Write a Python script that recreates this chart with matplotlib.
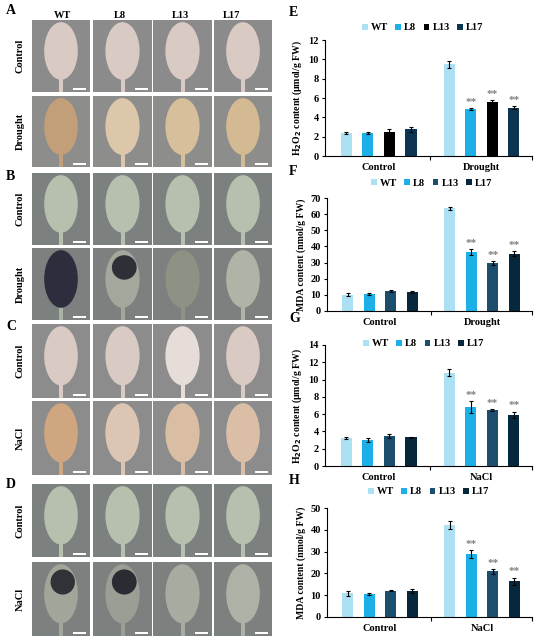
import numpy as np
import matplotlib
matplotlib.use("Agg")
import matplotlib.pyplot as plt
from matplotlib.patches import Rectangle, Ellipse

plt.rcParams['font.family'] = ['Liberation Serif', 'DejaVu Serif']
plt.rcParams['font.weight'] = 'bold'

W, H = 550, 641

lines = ['WT', 'L8', 'L13', 'L17']

# bar chart data (E-H)
e_control = [2.4, 2.4, 2.5, 2.75]
e_control_err = [0.1, 0.1, 0.25, 0.3]
e_drought = [9.5, 4.9, 5.6, 5.0]
e_drought_err = [0.35, 0.1, 0.15, 0.15]

f_control = [10.2, 10.3, 12.2, 11.8]
f_control_err = [0.8, 0.6, 0.5, 0.6]
f_drought = [63.5, 36.5, 29.8, 35.5]
f_drought_err = [1.0, 2.0, 1.2, 1.5]

g_control = [3.2, 3.0, 3.45, 3.3]
g_control_err = [0.1, 0.2, 0.2, 0.1]
g_nacl = [10.8, 6.8, 6.5, 5.9]
g_nacl_err = [0.4, 0.7, 0.1, 0.4]

h_control = [10.8, 10.5, 12.0, 11.8]
h_control_err = [1.0, 0.6, 0.3, 1.0]
h_nacl = [42.3, 29.0, 21.0, 16.5]
h_nacl_err = [1.8, 1.8, 1.2, 1.6]

colors_e = ['#ace1f3', '#1cb0e6', '#000000', '#0b3550']
colors_fgh = ['#ace1f3', '#1cb0e6', '#1c4f6e', '#07283c']


def px(x0, y0, x1, y1):
    return [x0 / W, 1 - y1 / H, (x1 - x0) / W, (y1 - y0) / H]


fig = plt.figure(figsize=(5.5, 6.41), dpi=100)

# ---------------- left side: leaf staining tiles ----------------
leaf = fig.add_axes([0, 0, 1, 1])
leaf.set_xlim(0, W)
leaf.set_ylim(H, 0)
leaf.axis('off')

cols_x = [(32, 90), (93, 152), (153, 212), (214, 272)]
header_x = [62, 120, 180, 232]
blocks = [
    ('A', 10, [(20, 92, 'Control'), (96, 167, 'Drought')]),
    ('B', 176, [(173, 245, 'Control'), (248, 320, 'Drought')]),
    ('C', 327, [(324, 398, 'Control'), (401, 475, 'NaCl')]),
    ('D', 485, [(484, 557, 'Control'), (562, 636, 'NaCl')]),
]
dab_ctrl = '#d9cac4'
nbt_ctrl = '#b7bfae'
# (background, leaf colour, dark cap colour or None)
tile_style = {
    ('A', 0): [('#8b8b8b', dab_ctrl, None)] * 4,
    ('A', 1): [('#8d8d8b', '#c29f78', None), ('#8d8d8b', '#dcc7ab', None),
               ('#8d8d8b', '#d6bf9a', None), ('#8d8d8b', '#d4ba92', None)],
    ('B', 0): [('#7c807f', nbt_ctrl, None)] * 4,
    ('B', 1): [('#7c807f', '#2c2e3d', None), ('#7c807f', '#a2a99c', '#2e3038'),
               ('#7c807f', '#8c9284', None), ('#7c807f', '#aeb4a6', None)],
    ('C', 0): [('#8d8c8c', dab_ctrl, None), ('#8d8c8c', dab_ctrl, None),
               ('#8d8c8c', '#e6dcd8', None), ('#8d8c8c', dab_ctrl, None)],
    ('C', 1): [('#8d8c8c', '#cfa67f', None), ('#8d8c8c', '#dcc6b3', None),
               ('#8d8c8c', '#d9bea3', None), ('#8d8c8c', '#dabfa6', None)],
    ('D', 0): [('#7c807f', nbt_ctrl, None)] * 4,
    ('D', 1): [('#7c807f', '#a0a69a', '#303238'), ('#7c807f', '#9a9f96', '#2a2c34'),
               ('#7c807f', '#a6ac9f', None), ('#7c807f', '#acb2a5', None)],
}

for name, label_y, rows in blocks:
    leaf.text(6, label_y, name, fontsize=10, ha='left', va='center')
    for r, (y0, y1, cond) in enumerate(rows):
        leaf.text(20, (y0 + y1) / 2, cond, rotation=90, fontsize=7.5,
                  ha='center', va='center')
        for c, (x0, x1) in enumerate(cols_x):
            bg, lc, cap = tile_style[(name, r)][c]
            w, h = x1 - x0, y1 - y0
            cx = (x0 + x1) / 2
            stem = lc if lc != '#2c2e3d' else '#a9b0a4'
            leaf.add_patch(Rectangle((x0, y0), w, h, facecolor=bg, edgecolor='none'))
            leaf.add_patch(Rectangle((cx - 2, y0 + 0.6 * h), 4, 0.4 * h,
                                     facecolor=stem, edgecolor='none'))
            leaf.add_patch(Ellipse((cx, y0 + 0.43 * h), 0.58 * w, 0.8 * h,
                                   facecolor=lc, edgecolor='none'))
            if cap:
                leaf.add_patch(Ellipse((cx + 0.03 * w, y0 + 0.27 * h), 0.42 * w, 0.34 * h,
                                       facecolor=cap, edgecolor='none'))
            leaf.add_patch(Rectangle((x0 + 0.71 * w, y1 - 4.5), 0.22 * w, 2,
                                     facecolor='white', edgecolor='none'))

for hx, name in zip(header_x, lines):
    leaf.text(hx, 16, name, fontsize=7.5, ha='center', va='center')


# ---------------- right side: bar charts ----------------
def bar_panel(letter, box, ctrl, ctrl_err, stress, stress_err, stress_name,
              colors, ymax, ystep, ylabel, legend_xy):
    ax = fig.add_axes(px(*box))
    width = 0.107
    offs = (np.arange(4) - 1.5) * 0.21
    for i in range(4):
        ax.bar([0 + offs[i], 1 + offs[i]], [ctrl[i], stress[i]], width,
               yerr=[ctrl_err[i], stress_err[i]], color=colors[i],
               error_kw=dict(elinewidth=0.8, capsize=1.5, capthick=0.8, ecolor='black'),
               label=lines[i], zorder=2)
        if i > 0:
            ax.text(1 + offs[i], stress[i] + stress_err[i] + ymax * 0.01, '**',
                    ha='center', va='bottom', fontsize=8, color='#7f7f7f')
    ax.set_xlim(-0.52, 1.49)
    ax.set_ylim(0, ymax)
    ax.set_yticks(np.arange(0, ymax + 0.01, ystep))
    ax.set_xticks([0, 1])
    ax.set_xticklabels(['Control', stress_name])
    ax.set_xticks([0.5, 1.49], minor=True)
    ax.tick_params(axis='x', which='major', length=0, pad=5, labelsize=7.5)
    ax.tick_params(axis='x', which='minor', length=3, width=0.8, direction='out')
    ax.tick_params(axis='y', length=2.5, width=0.8, labelsize=7.5, pad=2)
    for lab in ax.get_xticklabels() + ax.get_yticklabels():
        lab.set_fontweight('bold')
    for s in ['top', 'right']:
        ax.spines[s].set_visible(False)
    for s in ['left', 'bottom']:
        ax.spines[s].set_linewidth(0.8)
    ax.set_ylabel(ylabel, fontsize=7, fontweight='bold', labelpad=3)
    lx, ly = legend_xy
    ax.legend(loc='center left', bbox_to_anchor=(lx / W, 1 - ly / H),
              bbox_transform=fig.transFigure, ncol=4, frameon=False,
              handlelength=0.55, handleheight=0.55, handletextpad=0.3,
              columnspacing=0.7, borderaxespad=0, borderpad=0,
              prop={'weight': 'bold', 'size': 7.5})
    fig.text(289 / W, 1 - (box[1] - 27) / H, letter, fontsize=10, fontweight='bold',
             ha='left', va='center')
    return ax


bar_panel('E', (325, 40, 532, 156), e_control, e_control_err, e_drought, e_drought_err,
          'Drought', colors_e, 12, 2, 'H$_\\mathbf{2}$O$_\\mathbf{2}$ content (μmol/g FW)',
          (362, 28))
bar_panel('F', (327, 198, 532, 311), f_control, f_control_err, f_drought, f_drought_err,
          'Drought', colors_fgh, 70, 10, 'MDA content (nmol/g FW)', (371, 183))
bar_panel('G', (325, 345, 532, 466), g_control, g_control_err, g_nacl, g_nacl_err,
          'NaCl', colors_fgh, 14, 2, 'H$_\\mathbf{2}$O$_\\mathbf{2}$ content (μmol/g FW)',
          (363, 344))
bar_panel('H', (327, 508, 532, 617), h_control, h_control_err, h_nacl, h_nacl_err,
          'NaCl', colors_fgh, 50, 10, 'MDA content (nmol/g FW)', (368, 492))

fig.savefig('out.png', dpi=100)
